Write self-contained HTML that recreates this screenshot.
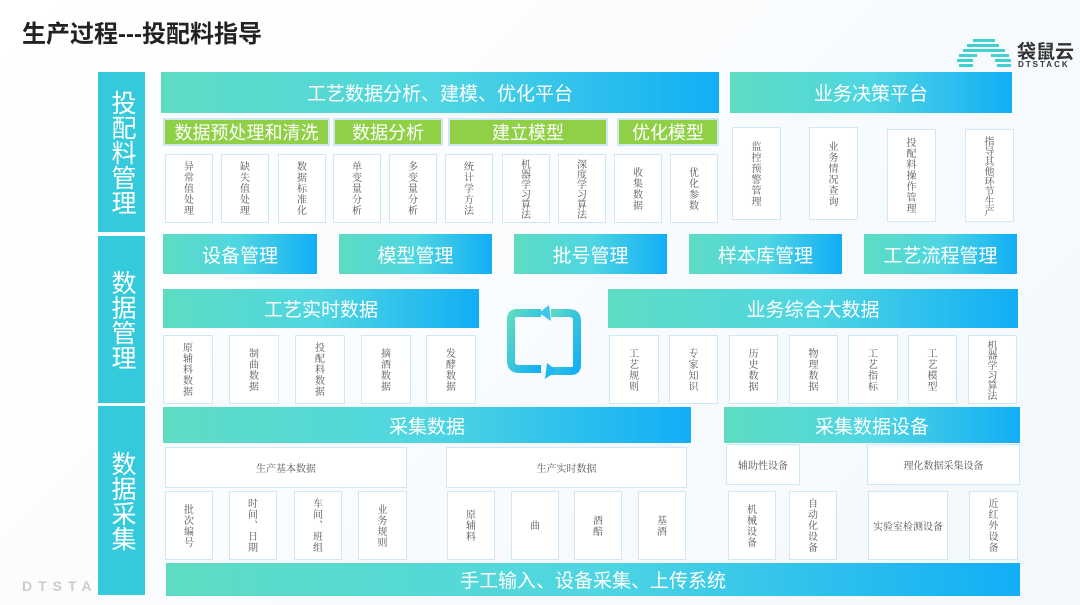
<!DOCTYPE html>
<html><head><meta charset="utf-8"><style>
*{margin:0;padding:0;box-sizing:border-box}
body{width:1080px;height:605px;position:relative;overflow:hidden;background:linear-gradient(135deg,#ffffff,#f3f8fc);font-family:"Liberation Sans","Noto Sans CJK SC",sans-serif}
.a{position:absolute}
.g{background:linear-gradient(90deg,#5edcc2,#4fd6e2 50%,#12aef6);color:#fff;display:flex;align-items:center;justify-content:center;font-size:19px}
.gr{background:#8fd046;color:#fff;display:flex;align-items:center;justify-content:center;font-size:18px;border:2px solid #cfe8f4}
.side{background:#35cadb;color:#fff;font-size:25px;display:flex;align-items:center;justify-content:center;writing-mode:vertical-rl;text-orientation:upright;line-height:1}
.b{border:1.5px solid #cde8f7;background:#fff;color:#555;font-family:"Noto Serif CJK SC",serif;font-size:10px;display:flex;align-items:center;justify-content:center;writing-mode:vertical-rl;text-orientation:upright;line-height:1.1;letter-spacing:1px;white-space:nowrap}
.h{writing-mode:horizontal-tb;letter-spacing:0}
.s{letter-spacing:0}
</style></head><body>
<div class="a" style="left:22px;top:14px;font-size:24px;font-weight:bold;color:#222">生产过程---投配料指导</div>
<svg class="a" style="left:955px;top:37px" width="60" height="34"><g fill="#3fd2d0"><rect x="18" y="2" width="22" height="3"/><rect x="12" y="7" width="32" height="3"/><rect x="8" y="12" width="42" height="3"/><rect x="4" y="17" width="18" height="3"/><rect x="36" y="17" width="18" height="3"/><rect x="2" y="22" width="16" height="3"/><rect x="40" y="22" width="16" height="3"/><rect x="4" y="27" width="14" height="3"/><rect x="42" y="27" width="14" height="3"/></g></svg>
<div class="a" style="left:1017px;top:37px;font-size:19px;font-weight:bold;color:#333">袋鼠云</div>
<div class="a" style="left:1018px;top:60px;font-size:8px;letter-spacing:2px;color:#333;font-weight:bold">DTSTACK</div>
<div class="a" style="left:22px;top:578px;font-size:14px;letter-spacing:6px;color:#ccc;font-weight:bold">DTSTAC</div>

<div class="a side" style="left:98px;top:72px;width:47px;height:160px">投配料管理</div>
<div class="a side" style="left:98px;top:236px;width:47px;height:167px">数据管理</div>
<div class="a side" style="left:98px;top:406px;width:47px;height:189px">数据采集</div>

<div class="a g" style="left:161px;top:72px;width:558px;height:41px">工艺数据分析、建模、优化平台</div>
<div class="a g" style="left:730px;top:72px;width:282px;height:41px">业务决策平台</div>
<div class="a gr" style="left:163px;top:118px;width:167px;height:28px">数据预处理和清洗</div>
<div class="a gr" style="left:333px;top:118px;width:110px;height:28px">数据分析</div>
<div class="a gr" style="left:448px;top:118px;width:160px;height:28px">建立模型</div>
<div class="a gr" style="left:617px;top:118px;width:102px;height:28px">优化模型</div>
<div class="a b" style="left:165px;top:154px;width:48px;height:69px">异常值处理</div>
<div class="a b" style="left:221px;top:154px;width:48px;height:69px">缺失值处理</div>
<div class="a b" style="left:278px;top:154px;width:48px;height:69px">数据标准化</div>
<div class="a b" style="left:333px;top:154px;width:48px;height:69px">单变量分析</div>
<div class="a b" style="left:389px;top:154px;width:48px;height:69px">多变量分析</div>
<div class="a b" style="left:445px;top:154px;width:48px;height:69px">统计学方法</div>
<div class="a b s" style="left:502px;top:154px;width:48px;height:69px">机器学习算法</div>
<div class="a b s" style="left:558px;top:154px;width:48px;height:69px">深度学习算法</div>
<div class="a b" style="left:614px;top:154px;width:48px;height:69px">收集数据</div>
<div class="a b" style="left:670px;top:154px;width:48px;height:69px">优化参数</div>
<div class="a b" style="left:732px;top:127px;width:49px;height:93px">监控预警管理</div>
<div class="a b" style="left:809px;top:127px;width:49px;height:93px">业务情况查询</div>
<div class="a b" style="left:887px;top:129px;width:49px;height:93px">投配料操作管理</div>
<div class="a b s" style="left:965px;top:129px;width:49px;height:93px">指导其他环节生产</div>

<div class="a g" style="left:163px;top:234px;width:154px;height:40px">设备管理</div>
<div class="a g" style="left:339px;top:234px;width:153px;height:40px">模型管理</div>
<div class="a g" style="left:514px;top:234px;width:153px;height:40px">批号管理</div>
<div class="a g" style="left:689px;top:234px;width:153px;height:40px">样本库管理</div>
<div class="a g" style="left:864px;top:234px;width:153px;height:40px">工艺流程管理</div>
<div class="a g" style="left:163px;top:289px;width:316px;height:39px">工艺实时数据</div>
<div class="a g" style="left:608px;top:289px;width:410px;height:39px">业务综合大数据</div>
<svg class="a" style="left:505px;top:305px" width="80" height="76"><defs><linearGradient id="c" x1="0" y1="0" x2="1" y2="1"><stop offset="0" stop-color="#5edcc2"/><stop offset="1" stop-color="#12aef6"/></linearGradient></defs>
<path d="M36 8 H12 Q6 8 6 14 V56 Q6 64 14 64 H36" fill="none" stroke="url(#c)" stroke-width="8"/>
<path d="M44 66 H66 Q72 66 72 60 V16 Q72 8 64 8 H46" fill="none" stroke="url(#c)" stroke-width="8"/>
<path d="M44 0 L34 8 L46 16 Z" fill="#3fc8e8"/><path d="M42 58 L52 66 L40 74 Z" fill="#20b8f0"/></svg>
<div class="a b" style="left:163px;top:335px;width:50px;height:69px">原辅料数据</div>
<div class="a b" style="left:229px;top:335px;width:50px;height:69px">制曲数据</div>
<div class="a b" style="left:295px;top:335px;width:50px;height:69px">投配料数据</div>
<div class="a b" style="left:361px;top:335px;width:50px;height:69px">摘酒数据</div>
<div class="a b" style="left:426px;top:335px;width:50px;height:69px">发酵数据</div>
<div class="a b" style="left:609px;top:335px;width:50px;height:69px">工艺规则</div>
<div class="a b" style="left:669px;top:335px;width:49px;height:69px">专家知识</div>
<div class="a b" style="left:729px;top:335px;width:49px;height:69px">历史数据</div>
<div class="a b" style="left:789px;top:335px;width:49px;height:69px">物理数据</div>
<div class="a b" style="left:848px;top:335px;width:50px;height:69px">工艺指标</div>
<div class="a b" style="left:908px;top:335px;width:49px;height:69px">工艺模型</div>
<div class="a b s" style="left:968px;top:335px;width:49px;height:69px">机器学习算法</div>

<div class="a g" style="left:163px;top:407px;width:528px;height:36px">采集数据</div>
<div class="a g" style="left:724px;top:407px;width:296px;height:36px">采集数据设备</div>
<div class="a b h" style="left:165px;top:447px;width:242px;height:41px">生产基本数据</div>
<div class="a b h" style="left:446px;top:447px;width:241px;height:41px">生产实时数据</div>
<div class="a b h" style="left:726px;top:444px;width:74px;height:41px">辅助性设备</div>
<div class="a b h" style="left:867px;top:444px;width:153px;height:41px">理化数据采集设备</div>
<div class="a b" style="left:165px;top:491px;width:48px;height:69px">批次编号</div>
<div class="a b" style="left:229px;top:491px;width:48px;height:69px">时间、日期</div>
<div class="a b" style="left:294px;top:491px;width:48px;height:69px">车间、班组</div>
<div class="a b" style="left:358px;top:491px;width:49px;height:69px">业务规则</div>
<div class="a b" style="left:447px;top:491px;width:48px;height:69px">原辅料</div>
<div class="a b" style="left:511px;top:491px;width:48px;height:69px">曲</div>
<div class="a b" style="left:574px;top:491px;width:48px;height:69px">酒醅</div>
<div class="a b" style="left:638px;top:491px;width:48px;height:69px">基酒</div>
<div class="a b" style="left:728px;top:491px;width:48px;height:69px">机械设备</div>
<div class="a b" style="left:789px;top:491px;width:48px;height:69px">自动化设备</div>
<div class="a b h" style="left:868px;top:491px;width:80px;height:69px">实验室检测设备</div>
<div class="a b" style="left:969px;top:491px;width:49px;height:69px">近红外设备</div>
<div class="a g" style="left:166px;top:563px;width:854px;height:33px">手工输入、设备采集、上传系统</div>
</body></html>
